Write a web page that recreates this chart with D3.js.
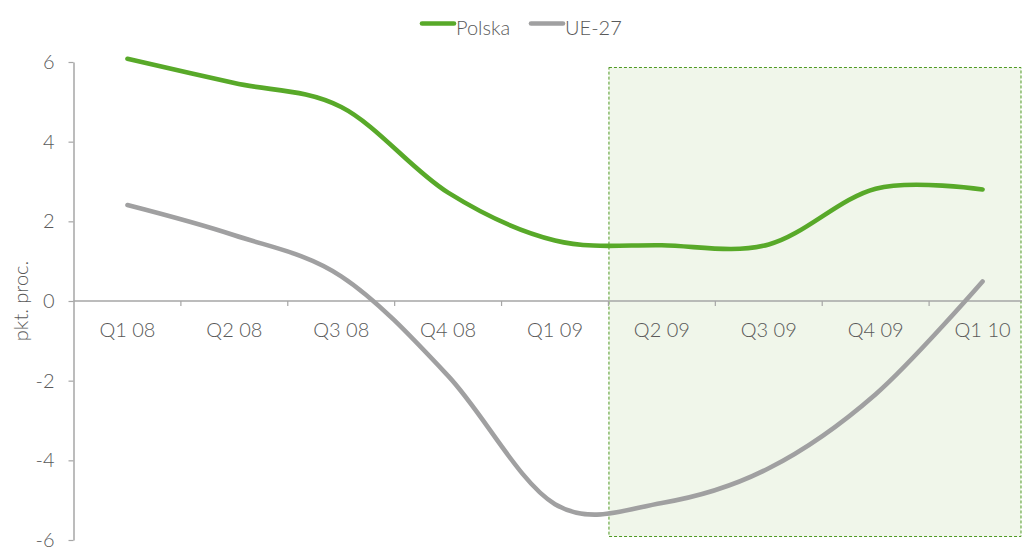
<!DOCTYPE html>
<html>
<head>
<meta charset="utf-8">
<script src="https://cdn.jsdelivr.net/npm/d3@7/dist/d3.min.js"></script>
<style>
  html, body { margin: 0; padding: 0; background: #ffffff; }
  svg { display: block; }
  text { font-family: Lato, "Open Sans", sans-serif; fill: #595959; font-weight: 300; }
</style>
</head>
<body>
<svg id="chart" width="1022" height="550"></svg>
<script>
const categories = ["Q1 08", "Q2 08", "Q3 08", "Q4 08", "Q1 09", "Q2 09", "Q3 09", "Q4 09", "Q1 10"];
const polska = [6.08, 5.47, 4.87, 2.72, 1.52, 1.4, 1.42, 2.82, 2.8];
const ue27 = [2.41, 1.65, 0.62, -1.88, -5.1, -5.07, -4.2, -2.34, 0.49];
const yTicks = [-6, -4, -2, 0, 2, 4, 6];
const seriesNames = ["Polska", "UE-27"];
const highlightFrom = "Q2 09";
const yLabel = "pkt. proc.";

const W = 1022, H = 550;
const svg = d3.select("#chart");
const colors = { "Polska": "#58a929", "UE-27": "#a0a0a1" };
const axisColor = "#a6a6a6";
const textColor = "#595959";

const x = d3.scaleBand().domain(categories).range([74, 1036]).padding(0);
const y = d3.scaleLinear().domain([-6, 6]).range([540, 62]);

// highlighted forecast region
svg.append("rect")
  .attr("x", x(highlightFrom) + 0.5)
  .attr("y", y(6) + 5.5)
  .attr("width", W - 1.5 - x(highlightFrom))
  .attr("height", y(-6) - y(6) - 9)
  .attr("fill", "#f0f6ea")
  .attr("stroke", "#4f9a23")
  .attr("stroke-width", 1)
  .attr("stroke-dasharray", "3,2");

// y axis
const yAxis = svg.append("g")
  .attr("transform", `translate(${x.range()[0] - 0.5},0)`)
  .call(d3.axisLeft(y).tickValues(yTicks).tickSize(5).tickSizeOuter(0).tickPadding(14)
    .tickFormat(d3.format("d")));
yAxis.select(".domain").attr("stroke", axisColor).attr("stroke-width", 1.5);
yAxis.selectAll(".tick line").attr("stroke", axisColor).attr("stroke-width", 1.2);
yAxis.selectAll(".tick text").style("font-size", "20px").attr("fill", textColor)
  .style("font-family", "Lato, 'Open Sans', sans-serif").style("font-weight", "300")
  .text(d => d < 0 ? "-" + Math.abs(d) : d);

// x axis at zero
const y0 = y(0);
svg.append("line")
  .attr("x1", x.range()[0] - 0.5).attr("x2", W)
  .attr("y1", y0).attr("y2", y0)
  .attr("stroke", axisColor).attr("stroke-width", 1.5);
const bounds = categories.map(c => x(c)).concat([x.range()[1]]).slice(1);
svg.append("g").selectAll("line").data(bounds).join("line")
  .attr("x1", d => d).attr("x2", d => d)
  .attr("y1", y0).attr("y2", y0 + 5)
  .attr("stroke", axisColor).attr("stroke-width", 1.2);
svg.append("g").selectAll("text").data(categories).join("text")
  .attr("x", d => x(d) + x.bandwidth() / 2)
  .attr("y", y0 + 36)
  .attr("text-anchor", "middle")
  .style("font-size", "20px")
  .text(d => d);

// y label
svg.append("text")
  .attr("transform", `translate(28,${y0}) rotate(-90)`)
  .attr("text-anchor", "middle")
  .style("font-size", "20px")
  .text(yLabel);

// lines
const line = d3.line()
  .x((d, i) => x(categories[i]) + x.bandwidth() / 2)
  .y(d => y(d))
  .curve(d3.curveCatmullRom.alpha(0));
const data = { "Polska": polska, "UE-27": ue27 };
seriesNames.forEach(name => {
  svg.append("path")
    .datum(data[name])
    .attr("d", line)
    .attr("fill", "none")
    .attr("stroke", colors[name])
    .attr("stroke-width", 4.6)
    .attr("stroke-linecap", "round")
    .attr("stroke-linejoin", "round");
});

// legend
const legend = svg.append("g");
const legendItems = [
  { name: "Polska", x: 422 },
  { name: "UE-27", x: 531 }
];
legendItems.forEach(it => {
  legend.append("line")
    .attr("x1", it.x).attr("x2", it.x + 32)
    .attr("y1", 23.5).attr("y2", 23.5)
    .attr("stroke", colors[it.name]).attr("stroke-width", 4.6)
    .attr("stroke-linecap", "round");
  legend.append("text")
    .attr("x", it.x + 34).attr("y", 35)
    .style("font-size", "20px")
    .text(it.name);
});
</script>
</body>
</html>
